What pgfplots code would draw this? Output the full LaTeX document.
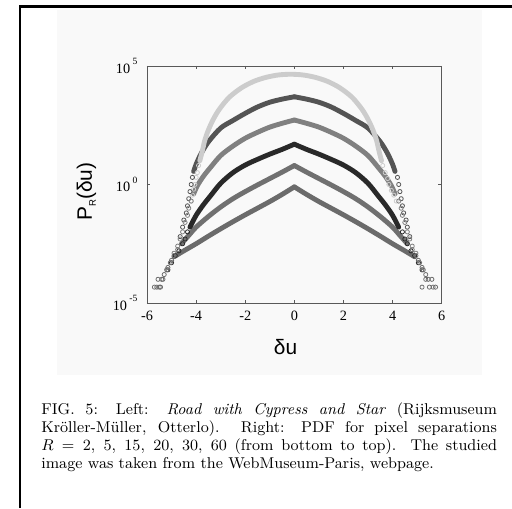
\documentclass[border=0pt]{standalone}
\usepackage{fontspec}
\usepackage{pgfplots}
\pgfplotsset{compat=1.18}
\newfontfamily\timesf{Liberation Serif}
\newfontfamily\helv{Liberation Sans}
\definecolor{cA}{gray}{0.80}
\definecolor{cB}{gray}{0.33}
\definecolor{cC}{gray}{0.50}
\definecolor{cD}{gray}{0.16}
\definecolor{cE}{gray}{0.44}
\definecolor{cF}{gray}{0.42}
\newcommand{\ex}[1]{\raisebox{1.25ex}{\fontsize{5.5}{6}\selectfont #1}}

\begin{document}
\begin{tikzpicture}
\path[use as bounding box] (0,0) rectangle (512*0.575pt,-508*0.575pt);
\begin{scope}[x=0.575pt,y=-0.575pt]
  \fill[black!2.5] (57,10) rectangle (482,375);
  \draw[line width=1.2pt] (20,508) -- (20,6.5) -- (512,6.5);
  \node[anchor=north west, text width=262pt, align=justify, inner sep=0pt,
        font=\fontsize{9}{10.5}\selectfont] at (41,402)
  {FIG. 5: Left: \textit{Road with Cypress and Star} (Rijksmuseum\linebreak
   Kröller-Müller, Otterlo). Right: PDF for pixel separations\linebreak
   $R=2$, 5, 15, 20, 30, 60 (from bottom to top). The studied\linebreak
   image was taken from the WebMuseum-Paris, webpage.};
\end{scope}
\begin{axis}[
    at={(147*0.575pt,-303*0.575pt)}, anchor=south west,
    scale only axis, width=169.45pt, height=136.3pt,
    xmin=-6, xmax=6, ymode=log, ymin=1e-5, ymax=1e5,
    xtick={-6,-4,-2,0,2,4,6},
    xticklabels={-6,-4,-2,0,2,4,6},
    ytick={1e-5,1,1e5},
    yticklabels={{10\,\ex{-5}},{10\,\ex{0}},{10\,\ex{5}}},
    minor ytick={}, yminorticks=false,
    axis line style={black!65, line width=0.5pt},
    tick style={black!65, line width=0.4pt},
    major tick length=2pt,
    xticklabel style={font=\timesf\fontsize{8.2}{9}\selectfont, yshift=-1pt},
    yticklabel style={font=\timesf\fontsize{8.2}{9}\selectfont, xshift=-2pt},
    xlabel={\helv δu},
    ylabel={\helv P\raisebox{-0.35ex}{\fontsize{5.5}{6}\selectfont R}(δu)},
    xlabel style={at={(axis description cs:0.47,-0.186)}, anchor=center, font=\fontsize{12}{14}\selectfont},
    ylabel style={at={(axis description cs:-0.205,0.47)}, anchor=center, font=\fontsize{12}{14}\selectfont},
    every axis plot/.append style={line join=round, line cap=round},
    clip=false,
]
% tails (scattered circles)
\addplot[only marks, mark=o, mark size=1.2pt, cA, mark options={line width=0.45pt}] coordinates {
(-3.9,6.310) (-3.95,3.162) (-4.0,1.995) (-4.05,1.0) (-4.1,6.310e-1) (-4.15,3.548e-1) (-4.2,1.995e-1)
(3.6,6.310) (3.7,3.162) (3.8,1.778) (3.85,1.0) (3.95,5.623e-1) (4.05,3.548e-1) (4.15,1.995e-1)};
\addplot[only marks, mark=o, mark size=1.2pt, cB, mark options={line width=0.45pt}] coordinates {
(-4.15,1.995) (-4.2,1.0) (-4.25,5.012e-1) (-4.3,2.512e-1) (-4.35,1.259e-1) (-4.4,6.310e-2) (-4.5,3.162e-2) (-4.55,1.585e-2) (-4.65,6.310e-3)
(4.2,1.995) (4.25,1.0) (4.3,5.012e-1) (4.35,2.512e-1) (4.4,1.259e-1) (4.45,6.310e-2) (4.55,3.162e-2) (4.6,1.585e-2) (4.7,6.310e-3)};
\addplot[only marks, mark=o, mark size=1.2pt, cC, mark options={line width=0.45pt}] coordinates {
(-4.2,1.995e-1) (-4.3,1.0e-1) (-4.35,5.012e-2) (-4.45,2.512e-2) (-4.55,1.0e-2) (-4.65,5.012e-3) (-4.75,2.512e-3) (-4.9,1.259e-3)
(4.25,1.995e-1) (4.35,1.0e-1) (4.4,5.012e-2) (4.5,2.512e-2) (4.6,1.0e-2) (4.7,5.012e-3) (4.8,2.512e-3) (4.95,1.259e-3)};
\addplot[only marks, mark=o, mark size=1.2pt, cD, mark options={line width=0.45pt}] coordinates {
(-4.35,1.0e-2) (-4.45,5.012e-3) (-4.55,3.162e-3) (-4.7,1.585e-3) (-4.85,1.0e-3) (-5.0,5.012e-4) (-5.15,2.512e-4)
(4.4,1.0e-2) (4.5,5.012e-3) (4.6,3.162e-3) (4.75,1.585e-3) (4.9,1.0e-3) (5.05,5.012e-4) (5.2,2.512e-4)};
\addplot[only marks, mark=o, mark size=1.2pt, cE, mark options={line width=0.45pt}] coordinates {
(-4.75,1.778e-3) (-4.9,1.0e-3) (-5.05,5.012e-4) (-5.2,2.512e-4) (-5.35,1.0e-4) (-5.5,4.677e-5) (-5.7,4.677e-5)
(4.8,1.778e-3) (4.95,1.0e-3) (5.1,5.012e-4) (5.25,2.512e-4) (5.35,1.0e-4) (5.2,4.677e-5) (5.65,4.677e-5)};
\addplot[only marks, mark=o, mark size=1.2pt, cF, mark options={line width=0.45pt}] coordinates {
(-5.0,6.310e-4) (-5.15,3.162e-4) (-5.3,1.585e-4) (-5.4,1.0e-4) (-5.45,4.677e-5) (-5.6,4.677e-5) (-5.55,1.0e-4)
(5.05,6.310e-4) (5.2,3.162e-4) (5.35,1.585e-4) (5.45,1.0e-4) (5.5,4.677e-5) (5.75,4.677e-5) (5.6,1.0e-4)};
% main bands, left and right halves
\addplot[cF, line width=2.8pt, smooth] coordinates {
(-4.9,8.913e-4) (-4.5,1.585e-3) (-4.0,3.162e-3) (-3.5,6.607e-3) (-3.0,1.349e-2) (-2.5,2.692e-2) (-2.0,5.248e-2) (-1.5,1.0e-1) (-1.0,1.905e-1) (-0.5,3.802e-1) (0,7.943e-1)};
\addplot[cF, line width=2.8pt, smooth] coordinates {
(0,7.943e-1) (0.5,3.802e-1) (1.0,1.905e-1) (1.5,1.0e-1) (2.0,5.248e-2) (2.5,2.692e-2) (3.0,1.349e-2) (3.5,6.607e-3) (4.0,3.162e-3) (4.5,1.585e-3) (4.9,8.913e-4)};
\addplot[cE, line width=2.8pt, smooth] coordinates {
(-4.6,3.162e-3) (-4.3,7.079e-3) (-4.0,1.585e-2) (-3.5,4.467e-2) (-3.0,1.122e-1) (-2.5,2.512e-1) (-2.0,5.012e-1) (-1.5,9.550e-1) (-1.0,1.778) (-0.5,3.311) (0,6.310)};
\addplot[cE, line width=2.8pt, smooth] coordinates {
(0,6.310) (0.5,3.311) (1.0,1.778) (1.5,9.550e-1) (2.0,5.012e-1) (2.5,2.512e-1) (3.0,1.122e-1) (3.5,4.467e-2) (4.0,1.585e-2) (4.3,7.079e-3) (4.6,3.162e-3)};
\addplot[cD, line width=2.8pt, smooth] coordinates {
(-4.25,1.585e-2) (-4.0,5.012e-2) (-3.7,1.413e-1) (-3.43,3.162e-1) (-3.0,1.122) (-2.5,3.162) (-2.0,6.607) (-1.5,1.148e1) (-1.0,1.905e1) (-0.5,3.020e1) (0,5.012e1)};
\addplot[cD, line width=2.8pt, smooth] coordinates {
(0,5.012e1) (0.5,3.020e1) (1.0,1.905e1) (1.5,1.148e1) (2.0,6.607) (2.5,3.162) (3.0,1.122) (3.43,3.162e-1) (3.7,1.413e-1) (4.0,5.012e-2) (4.25,1.585e-2)};
\addplot[cC, line width=2.8pt, smooth] coordinates {
(-4.1,3.981e-1) (-3.95,8.913e-1) (-3.7,2.239) (-3.43,5.012) (-3.0,1.660e1) (-2.5,4.169e1) (-2.0,8.913e1) (-1.5,1.585e2) (-1.0,2.630e2) (-0.5,3.802e2) (0,5.248e2)};
\addplot[cC, line width=2.8pt, smooth] coordinates {
(0,5.248e2) (0.5,3.802e2) (1.0,2.630e2) (1.5,1.585e2) (2.0,8.913e1) (2.5,4.169e1) (3.0,1.660e1) (3.43,5.012) (3.7,2.239) (3.95,8.913e-1) (4.1,3.981e-1)};
\addplot[cB, line width=2.8pt, smooth] coordinates {
(-4.1,3.548) (-4.0,7.079) (-3.8,1.995e1) (-3.5,6.310e1) (-3.0,2.399e2) (-2.5,5.012e2) (-2.0,1.0e3) (-1.5,1.862e3) (-1.0,2.951e3) (-0.5,3.981e3) (0,5.012e3)};
\addplot[cB, line width=2.8pt, smooth] coordinates {
(0,5.012e3) (0.5,3.981e3) (1.0,2.951e3) (1.5,1.862e3) (2.0,1.0e3) (2.5,5.012e2) (3.0,2.399e2) (3.5,6.310e1) (3.8,1.995e1) (4.0,7.079) (4.1,3.548)};
\addplot[cA, line width=2.8pt, smooth] coordinates {
(-3.85,1.0e1) (-3.75,2.512e1) (-3.65,7.079e1) (-3.5,1.995e2) (-3.3,5.623e2) (-3.05,1.514e3) (-2.65,4.786e3) (-2.15,1.202e4) (-1.65,2.239e4) (-1.15,3.311e4) (-0.65,4.169e4) (-0.15,4.467e4)
(0.35,4.169e4) (0.85,3.311e4) (1.35,2.239e4) (1.85,1.202e4) (2.35,4.786e3) (2.75,1.514e3) (3.0,5.623e2) (3.2,1.995e2) (3.35,7.079e1) (3.45,2.512e1) (3.55,1.0e1)};
\end{axis}
\end{tikzpicture}
\end{document}
